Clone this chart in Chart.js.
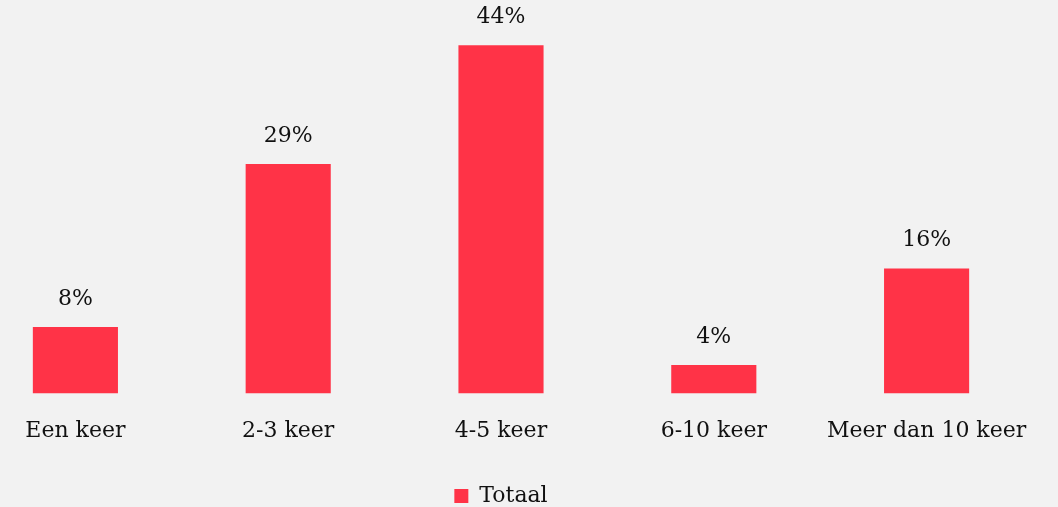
<!DOCTYPE html>
<html>
<head>
<meta charset="utf-8">
<script src="https://cdn.jsdelivr.net/npm/chart.js@4"></script>
<style>
    html, body { margin: 0; padding: 0; background: #f2f2f2; overflow: hidden; }
    #wrap { width: 1089px; height: 517px; margin-left: -31px; }
</style>
</head>
<body>
<div id="wrap"><canvas id="freq-chart"></canvas></div>
<script>
const categories = ['Een keer', '2-3 keer', '4-5 keer', '6-10 keer', 'Meer dan 10 keer'];
const totaal = [8.4, 29, 44, 3.6, 15.8];

// percentages boven de balken
const valueLabels = {
    id: 'valueLabels',
    afterDatasetsDraw(chart) {
        const ctx = chart.ctx;
        ctx.save();
        ctx.font = '22px "DejaVu Serif"';
        ctx.fillStyle = '#111';
        ctx.textAlign = 'center';
        ctx.textBaseline = 'middle';
        chart.getDatasetMeta(0).data.forEach((bar, i) => {
            ctx.fillText(Math.round(totaal[i]) + '%', bar.x, bar.y - 28);
        });
        ctx.restore();
    }
};

const ctx = document.getElementById('freq-chart').getContext('2d');
const freqChart = new Chart(ctx, {
    type: 'bar',
    data: {
        labels: categories,
        datasets: [{
            label: 'Totaal',
            data: totaal,
            backgroundColor: 'rgb(255, 51, 71)',
            barPercentage: 0.4,
            categoryPercentage: 1
        }]
    },
    options: {
        responsive: true,
        maintainAspectRatio: false,
        animation: false,
        layout: {
            padding: { left: 0, right: 25, top: 0, bottom: 0 }
        },
        scales: {
            x: {
                grid: { display: false },
                border: { display: false },
                ticks: {
                    color: '#111',
                    font: { family: 'DejaVu Serif', size: 22 },
                    padding: 16,
                    maxRotation: 0
                },
                afterFit(scale) { scale.height += 25; }
            },
            y: {
                display: false,
                min: 0,
                max: 49.7
            }
        },
        plugins: {
            legend: {
                position: 'bottom',
                labels: {
                    color: '#111',
                    font: { family: 'DejaVu Serif', size: 22 },
                    boxWidth: 14,
                    boxHeight: 14,
                    padding: 0
                }
            },
            tooltip: { enabled: false }
        }
    },
    plugins: [valueLabels]
});
</script>
</body>
</html>
